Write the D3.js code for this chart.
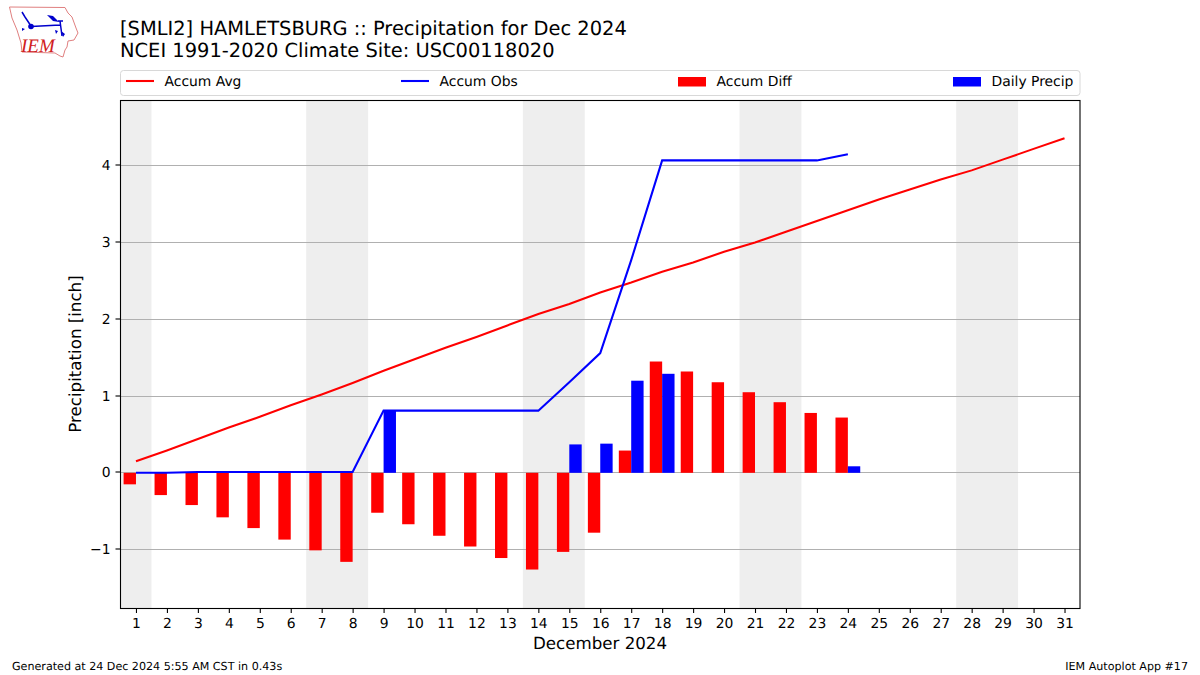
<!DOCTYPE html>
<html><head><meta charset="utf-8">
<script src="https://cdn.jsdelivr.net/npm/d3@7"></script>
<style>html,body{margin:0;padding:0;background:#fff}svg{display:block}text{font-family:"DejaVu Sans",sans-serif;fill:#000;text-rendering:geometricPrecision}</style>
</head><body><svg id="c" width="1200" height="675"></svg>
<script>
const days = d3.range(1, 32);
const accumAvg = [0.15,0.29,0.44,0.59,0.73,0.88,1.02,1.17,1.33,1.48,1.63,1.77,1.92,2.07,2.20,2.35,2.48,2.62,2.74,2.88,3.00,3.14,3.28,3.42,3.56,3.69,3.82,3.94,4.08,4.22,4.36];
const accumObs = [0,0,0.01,0.01,0.01,0.01,0.01,0.01,0.81,0.81,0.81,0.81,0.81,0.81,1.18,1.56,2.77,4.07,4.07,4.07,4.07,4.07,4.07,4.15];
const accumDiff = [-0.15,-0.29,-0.42,-0.58,-0.72,-0.87,-1.01,-1.16,-0.52,-0.67,-0.82,-0.96,-1.11,-1.26,-1.03,-0.78,0.29,1.45,1.32,1.18,1.05,0.92,0.78,0.72];
const dailyPrecip = [0,0,0,0,0,0,0,0,0.81,0,0,0,0,0,0.37,0.38,1.20,1.29,0,0,0,0,0,0.085];
const weekendBands = [[0.5,1.5],[6.5,8.5],[13.5,15.5],[20.5,22.5],[27.5,29.5]];
const yTicks = [-1,0,1,2,3,4];
const titleLines = ["[SMLI2] HAMLETSBURG :: Precipitation for Dec 2024","NCEI 1991-2020 Climate Site: USC00118020"];
const legendItems = [["Accum Avg","line","#ff0000"],["Accum Obs","line","#0000ff"],["Accum Diff","bar","#ff0000"],["Daily Precip","bar","#0000ff"]];

const L=120.5,R=1080,T=100,B=608;
const svg=d3.select("#c");
const x=d3.scaleLinear().domain([0.5,31.5]).range([L,R]);
const y=d3.scaleLinear().domain([-1.765,4.853]).range([B+.3,T+.3]);

svg.append("g").selectAll("rect").data(weekendBands).join("rect")
 .attr("x",d=>x(d[0])).attr("width",d=>x(d[1])-x(d[0])).attr("y",T).attr("height",B-T).attr("fill","#eeeeee");
svg.append("g").selectAll("line").data(yTicks).join("line")
 .attr("x1",L).attr("x2",R).attr("y1",d=>Math.floor(y(d))+.5).attr("y2",d=>Math.floor(y(d))+.5)
 .attr("stroke","#b0b0b0").attr("stroke-width",1.1);
const bw=0.4;
svg.append("g").selectAll("rect").data(accumDiff).join("rect")
 .attr("x",(d,i)=>x(days[i]-bw)).attr("width",x(bw)-x(0))
 .attr("y",d=>y(Math.max(d,0))).attr("height",d=>Math.abs(y(d)-y(0))).attr("fill","#ff0000");
svg.append("g").selectAll("rect").data(dailyPrecip).join("rect")
 .attr("x",(d,i)=>x(days[i])).attr("width",x(bw)-x(0))
 .attr("y",d=>y(d)).attr("height",d=>y(0)-y(d)).attr("fill","#0000ff");
const line=d3.line().x((d,i)=>x(days[i])).y(d=>y(d));
svg.append("path").attr("d",line(accumAvg)).attr("fill","none").attr("stroke","#ff0000").attr("stroke-width",2.08);
svg.append("path").attr("d",line(accumObs)).attr("fill","none").attr("stroke","#0000ff").attr("stroke-width",2.08);
const ax=svg.append("g").attr("transform",`translate(0,${B})`).call(d3.axisBottom(x).tickValues(days).tickFormat(d3.format("d")).tickSize(5).tickPadding(5));
const ay=svg.append("g").attr("transform",`translate(${L},0)`).call(d3.axisLeft(y).tickValues(yTicks).tickFormat(d=>d<0?"\u2212"+Math.abs(d):d).tickSize(5).tickPadding(5));
[ax,ay].forEach(a=>{a.selectAll("text").style("font-size","13.89px").style("font-family",'"DejaVu Sans"');a.selectAll("line").attr("stroke","#000").attr("stroke-width",1.1);a.select(".domain").remove();});
ay.selectAll(".tick").attr("transform",d=>`translate(0,${Math.floor(y(d))})`);
ay.selectAll("text").attr("y",1);
svg.append("rect").attr("x",L).attr("y",T+.5).attr("width",R-L).attr("height",B-T).attr("fill","none").attr("stroke","#000").attr("stroke-width",1.1);
svg.append("text").attr("x",600).attr("y",649).attr("text-anchor","middle").style("font-size","16.67px").text("December 2024");
svg.append("text").attr("transform","translate(80.5,354) rotate(-90)").attr("text-anchor","middle").style("font-size","16.67px").text("Precipitation [inch]");
svg.append("g").selectAll("text").data(titleLines).join("text").attr("x",120).attr("y",(d,i)=>35+i*22).style("font-size","19.44px").text(d=>d);
svg.append("text").attr("x",12).attr("y",670).style("font-size","11.11px").text("Generated at 24 Dec 2024 5:55 AM CST in 0.43s");
svg.append("text").attr("x",1188).attr("y",670).attr("text-anchor","end").style("font-size","11.11px").text("IEM Autoplot App #17");
svg.append("rect").attr("x",120.5).attr("y",70.5).attr("width",959.5).attr("height",25).attr("rx",3).attr("fill","#fff").attr("stroke","#d8d8d8");
const lx=[126,401,678,953];
legendItems.forEach((it,i)=>{
 const g=svg.append("g").attr("transform",`translate(${lx[i]},0)`);
 if(it[1]==="line") g.append("line").attr("x1",0).attr("x2",28).attr("y1",81).attr("y2",81).attr("stroke",it[2]).attr("stroke-width",2.08);
 else g.append("rect").attr("x",0).attr("y",77).attr("width",28).attr("height",9.5).attr("fill",it[2]);
 g.append("text").attr("x",38.5).attr("y",86).style("font-size","13.89px").text(it[0]);
});
const logo=svg.append("g");
logo.append("path").attr("d","M9.5 7L65 7.5L68 13L72 17L76 28L78 33L74 40L68 41L67 47L65 50L63 57L60 56L55 53L22 52L21 43L17 30L12 18Z").attr("fill","#fff").attr("stroke","#e08080").attr("stroke-width",1);
logo.append("path").attr("d","M22 12L25 17L31 26M31 26.5L60 25M60 21L62 36M58 21L63 21").attr("fill","none").attr("stroke","#0000cc").attr("stroke-width",1.5);
logo.append("path").attr("d","M47 15L53 16L59 22L53 21Z").attr("fill","#0000cc");
logo.append("circle").attr("cx",31).attr("cy",26.5).attr("r",2.8).attr("fill","#0000cc");
logo.append("path").attr("d","M55 30l3 1l-2 3zM61 31l4 3l-2 3zM22 28l3 1l-3 2z").attr("fill","#0000cc");
logo.append("text").attr("x",21).attr("y",52).style("font-family",'"Liberation Serif"').style("font-style","italic").style("font-size","19px").style("fill","#d02020").text("IEM");
</script></body></html>
